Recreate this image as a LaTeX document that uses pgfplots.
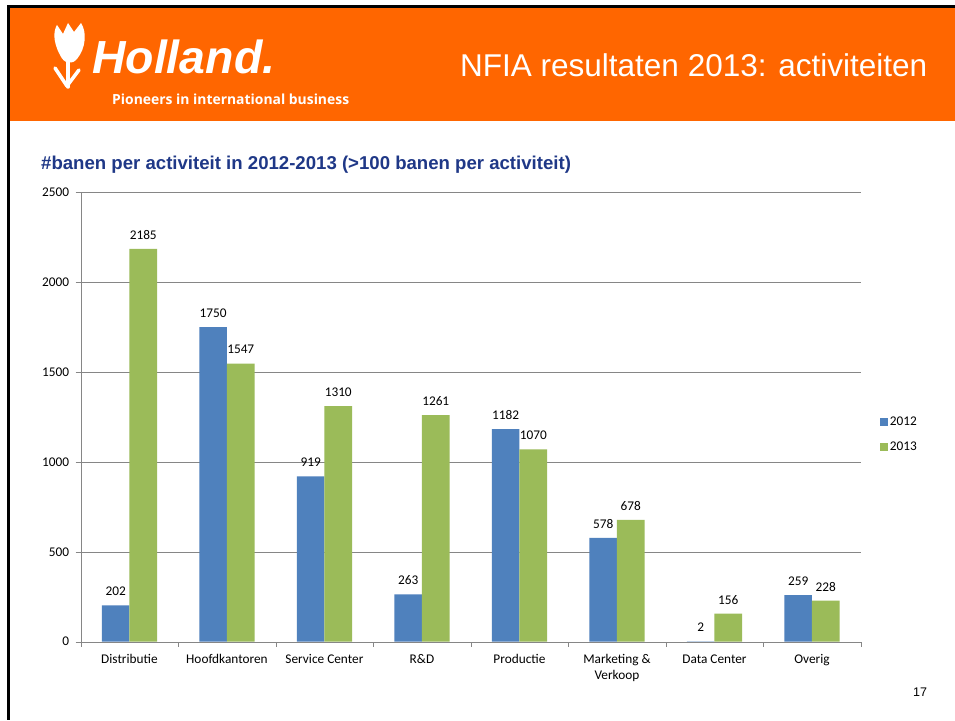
\documentclass[border=0pt]{standalone}
\usepackage{fontspec}
\setmainfont{Liberation Sans}
\newfontfamily\calibri{Carlito}
\newfontfamily\opensans{Open Sans}
\usepackage{graphicx}
\usepackage{pgfplots}
\pgfplotsset{compat=1.18}
\definecolor{nfiaorange}{RGB}{255,102,0}
\definecolor{barblue}{RGB}{79,129,189}
\definecolor{bargreen}{RGB}{155,187,89}
\definecolor{navytitle}{RGB}{31,56,135}
\definecolor{axgray}{RGB}{134,134,134}
\newcommand{\tickfont}{\calibri\fontsize{13.3}{15.7}\selectfont}
\begin{document}
\begin{tikzpicture}[x=1pt,y=1pt]
% slide background and header
\fill[white] (0,0) rectangle (955,720);
\fill[black] (6.7,0) rectangle (9.7,715);
\fill[black] (6.7,712) rectangle (955,715);
\fill[nfiaorange] (9.7,599) rectangle (955,712);
% tulip
\fill[white] (60,665) .. controls (52,680) and (54,690) .. (57,695) -- (63,686) -- (68,697) -- (74,688) -- (81,697) .. controls (87,688) and (86,672) .. (77,661) .. controls (72,655) and (64,656) .. (60,665) -- cycle;
\draw[white, line width=3.5pt, line cap=round, line join=round] (68,658) -- (68,633);
\draw[white, line width=3.5pt, line cap=round, line join=round] (55,652) -- (67,634) -- (79,650);
\node[anchor=base west, inner sep=0, text=white] at (92,646) {\resizebox{183pt}{!}{\bfseries\itshape Holland.}};
\node[anchor=base west, inner sep=0, text=white] at (112,615.7) {\resizebox{237pt}{!}{\opensans\bfseries Pioneers in international business}};
\node[anchor=base west, inner sep=0, text=white, font=\fontsize{31.5}{36}\selectfont] at (460,643) {NFIA resultaten 2013: activiteiten};
\node[anchor=base west, inner sep=0, text=navytitle, font=\bfseries\fontsize{18.6}{22}\selectfont] at (41,550.5) {\#banen per activiteit in 2012-2013 (>100 banen per activiteit)};
\node[anchor=base west, inner sep=0, font=\fontsize{12.5}{14}\selectfont] at (913,24) {17};
\begin{axis}[
  at={(80.7pt,78.3pt)}, anchor=south west,
  scale only axis, width=780pt, height=449.4pt,
  ybar=0pt, bar width=27.6pt,
  xmin=-0.5, xmax=7.5, ymin=0, ymax=2500,
  xtick={-0.5,0.5,...,7.5}, x tick label as interval,
  xticklabels={Distributie,Hoofdkantoren,Service Center,R\&D,Productie,{Marketing \&\\Verkoop},Data Center,Overig},
  xticklabel style={align=center, font=\tickfont, text=black, yshift=-4pt, execute at begin node={\vphantom{bdfhkl}}},
  ytick={0,500,...,2500},
  yticklabel style={font=\tickfont, text=black, xshift=-3pt},
  /pgf/number format/assume math mode=true,
  /pgf/number format/1000 sep={},
  scaled y ticks=false,
  axis x line*=bottom, axis y line*=left,
  axis line style={draw=axgray, -},
  tick align=outside, major tick length=5pt,
  tick style={draw=axgray, thin},
  ymajorgrids, grid style={draw=axgray, thin},
  nodes near coords,
  nodes near coords style={font=\tickfont, text=black, yshift=6pt},
  legend style={draw=none, fill=none, at={(1.0205,0.461)}, anchor=west, font=\tickfont, row sep=11pt},
  legend cell align=left,
  legend image code/.code={\fill[#1] (0pt,-4pt) rectangle (8pt,4pt);},
]
\addplot[fill=barblue, draw=none] coordinates {(0,202) (1,1750) (2,919) (3,263) (4,1182) (5,578) (6,2) (7,259)};
\addplot[fill=bargreen, draw=none] coordinates {(0,2185) (1,1547) (2,1310) (3,1261) (4,1070) (5,678) (6,156) (7,228)};
\legend{2012,2013}
\end{axis}
\end{tikzpicture}
\end{document}
